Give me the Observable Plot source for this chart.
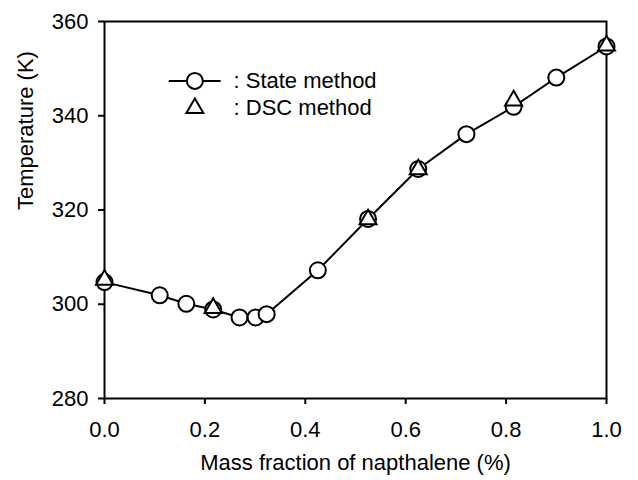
<!DOCTYPE html>
<html>
<head>
<meta charset="utf-8">
<script src="https://cdn.jsdelivr.net/npm/d3@7"></script>
<script src="https://cdn.jsdelivr.net/npm/@observablehq/plot@0.6"></script>
<style>
  html, body { margin: 0; padding: 0; background: #fff; }
  #chart svg { display: block; }
</style>
</head>
<body>
<div id="chart"></div>
<script>
// Data
const stateFraction = [0, 0.11, 0.163, 0.2165, 0.269, 0.301, 0.323, 0.425, 0.525, 0.625, 0.721, 0.815, 0.900, 1.0];
const stateTemp     = [304.7, 301.9, 300.1, 298.9, 297.2, 297.2, 297.9, 307.2, 318.1, 328.7, 336.1, 341.9, 348.1, 354.7];
const dscFraction   = [0, 0.2165, 0.525, 0.625, 0.815, 1.0];
const dscTemp       = [305.2, 299.2, 318.0, 328.6, 343.2, 354.9];
const xTicks = [0, 0.2, 0.4, 0.6, 0.8, 1.0];
const yTicks = [280, 300, 320, 340, 360];
const xLabel = "Mass fraction of napthalene (%)";
const yLabel = "Temperature (K)";
const legendLabels = [": State method", ": DSC method"];

const stateData = stateFraction.map((x, i) => ({x, y: stateTemp[i]}));
const dscData = dscFraction.map((x, i) => ({x, y: dscTemp[i]}));

// legend placement (data space)
const legLineX1 = 0.129, legLineX2 = 0.2325, legSymX = 0.18, legTextX = 0.257;
const legRowY = [347.4, 341.6];

const FS = 22;
const font = "'Liberation Sans', Arial, sans-serif";

const chart = Plot.plot({
  width: 638,
  height: 480,
  marginLeft: 104,
  marginRight: 32,
  marginTop: 21,
  marginBottom: 82,
  style: {fontFamily: font, fontSize: FS + "px", color: "#000", background: "#fff"},
  x: {domain: [0, 1], axis: null},
  y: {domain: [280, 360], axis: null},
  marks: [
    Plot.axisX({ticks: xTicks, tickFormat: d3.format(".1f"), tickSize: 6, tickPadding: 17, strokeWidth: 2, fontSize: FS, label: null}),
    Plot.axisY({ticks: yTicks, tickFormat: d3.format("d"), tickSize: 6, tickPadding: 10, strokeWidth: 2, fontSize: FS, label: null}),
    Plot.frame({stroke: "#000", strokeWidth: 2}),
    Plot.line(stateData, {x: "x", y: "y", stroke: "#000", strokeWidth: 2}),
    Plot.dot(stateData, {x: "x", y: "y", r: 8, fill: "#fff", stroke: "#000", strokeWidth: 2}),
    Plot.dot(dscData, {x: "x", y: "y", r: 6.3, symbol: "triangle", fill: "#fff", stroke: "#000", strokeWidth: 2}),
    // legend
    Plot.ruleY([legRowY[0]], {x1: legLineX1, x2: legLineX2, stroke: "#000", strokeWidth: 2}),
    Plot.dot([legRowY[0]], {x: () => legSymX, y: d => d, r: 8, fill: "#fff", stroke: "#000", strokeWidth: 2}),
    Plot.dot([legRowY[1]], {x: () => legSymX, y: d => d, r: 6.3, symbol: "triangle", fill: "#fff", stroke: "#000", strokeWidth: 2}),
    Plot.text(legendLabels, {x: () => legTextX, y: (d, i) => legRowY[i], text: d => d, textAnchor: "start", fontSize: FS, fill: "#000"}),
    // axis titles
    Plot.text([xLabel], {frameAnchor: "bottom", dy: 71, text: d => d, fontSize: FS, fill: "#000"}),
    Plot.text([yLabel], {frameAnchor: "left", dx: -79, rotate: -90, text: d => d, fontSize: FS, fill: "#000"})
  ]
});
document.getElementById("chart").appendChild(chart);
</script>
</body>
</html>
